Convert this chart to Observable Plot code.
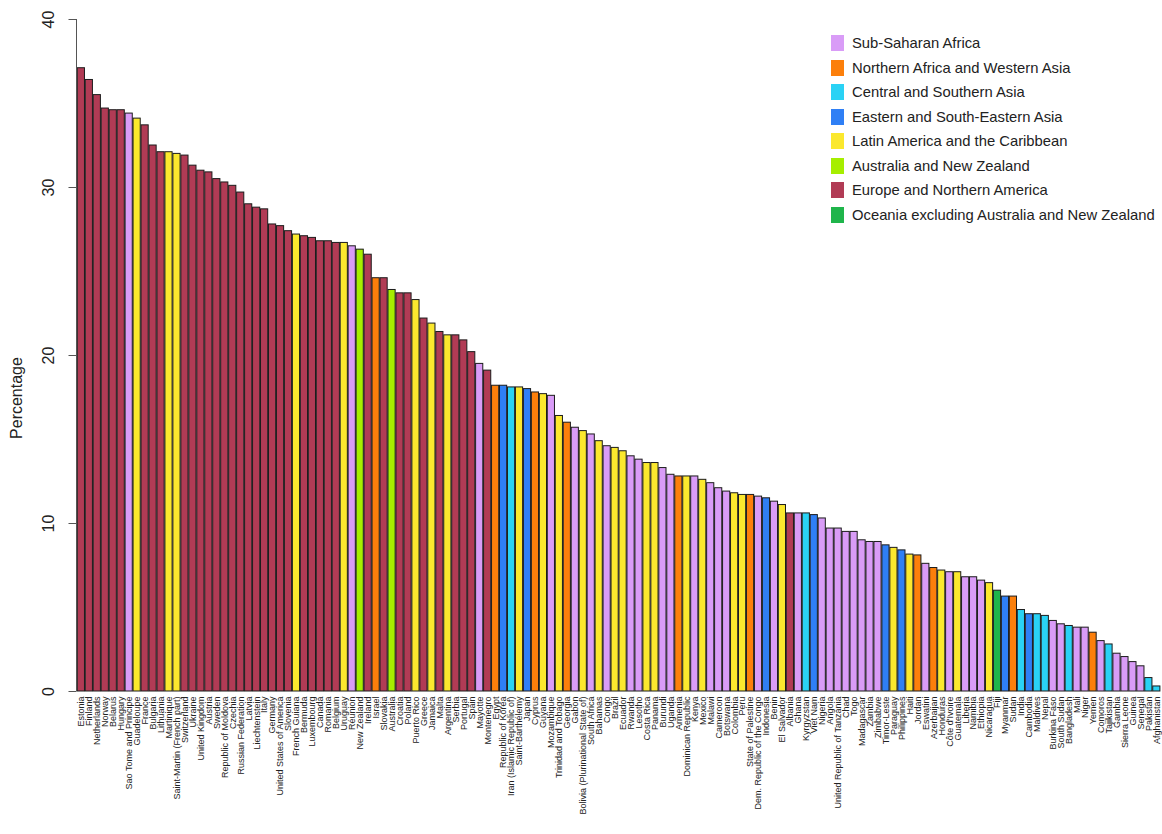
<!DOCTYPE html>
<html>
<head>
<meta charset="utf-8">
<script src="https://cdn.jsdelivr.net/npm/d3@7"></script>
<script src="https://cdn.jsdelivr.net/npm/@observablehq/plot@0.6"></script>
<style>
  html, body { margin: 0; padding: 0; background: #fff; }
  #wrap { position: relative; width: 1162px; height: 834px; font-family: "Liberation Sans", Arial, sans-serif; }
  #legend { position: absolute; left: 831px; top: 31px; font-size: 14.8px; color: #222; }
  #legend .row { display: flex; align-items: center; height: 24.5px; }
  #legend .sw { width: 13px; height: 16px; margin-right: 8px; }
</style>
</head>
<body>
<div id="wrap"><div id="legend"></div></div>
<script>
const regions = [
  "Sub-Saharan Africa",
  "Northern Africa and Western Asia",
  "Central and Southern Asia",
  "Eastern and South-Eastern Asia",
  "Latin America and the Caribbean",
  "Australia and New Zealand",
  "Europe and Northern America",
  "Oceania excluding Australia and New Zealand"
];
const regionColors = ["#d99cf7", "#fc7f0b", "#2ad2f5", "#2f7ff5", "#fbe82e", "#a6ee00", "#b13b55", "#1fb54b"];

const countries = [
  "Estonia","Finland","Netherlands","Norway","Belarus","Hungary","Sao Tome and Principe","Guadeloupe","France","Bulgaria",
  "Lithuania","Martinique","Saint-Martin (French part)","Switzerland","Ukraine","United Kingdom","Austria","Sweden","Republic of Moldova","Czechia",
  "Russian Federation","Latvia","Liechtenstein","Italy","Germany","United States of America","Slovenia","French Guiana","Bermuda","Luxembourg",
  "Canada","Romania","Belgium","Uruguay","Réunion","New Zealand","Ireland","Israel","Slovakia","Australia",
  "Croatia","Poland","Puerto Rico","Greece","Jamaica","Malta","Argentina","Serbia","Portugal","Spain",
  "Mayotte","Montenegro","Egypt","Republic of Korea","Iran (Islamic Republic of)","Saint-Barthélemy","Japan","Cyprus","Guyana","Mozambique",
  "Trinidad and Tobago","Georgia","Gabon","Bolivia (Plurinational State of)","South Africa","Bahamas","Congo","Brazil","Ecuador","Rwanda",
  "Lesotho","Costa Rica","Panama","Burundi","Uganda","Armenia","Dominican Republic","Kenya","Mexico","Malawi",
  "Cameroon","Botswana","Colombia","Peru","State of Palestine","Dem. Republic of the Congo","Indonesia","Benin","El Salvador","Albania",
  "Ghana","Kyrgyzstan","Viet Nam","Nigeria","Angola","United Republic of Tanzania","Chad","Togo","Madagascar","Zambia",
  "Zimbabwe","Timor-Leste","Paraguay","Philippines","Haiti","Jordan","Eswatini","Azerbaijan","Honduras","Côte d'Ivoire",
  "Guatemala","Liberia","Namibia","Ethiopia","Nicaragua","Fiji","Myanmar","Sudan","India","Cambodia",
  "Maldives","Nepal","Burkina Faso","South Sudan","Bangladesh","Mali","Niger","Yemen","Comoros","Tajikistan",
  "Gambia","Sierra Leone","Guinea","Senegal","Pakistan","Afghanistan"
];

const percentages = [
  37.1,36.4,35.5,34.7,34.6,34.6,34.4,34.1,33.7,32.5,
  32.1,32.1,32.0,31.9,31.3,31.0,30.9,30.5,30.3,30.1,
  29.7,29.0,28.8,28.7,27.8,27.7,27.4,27.2,27.1,27.0,
  26.8,26.8,26.7,26.7,26.5,26.3,26.0,24.6,24.6,23.9,
  23.7,23.7,23.3,22.2,21.9,21.4,21.2,21.2,20.9,20.2,
  19.5,19.1,18.2,18.2,18.1,18.1,18.0,17.8,17.7,17.6,
  16.4,16.0,15.7,15.5,15.3,14.9,14.6,14.5,14.3,14.0,
  13.8,13.6,13.6,13.3,12.9,12.8,12.8,12.8,12.6,12.4,
  12.1,11.9,11.8,11.7,11.7,11.6,11.5,11.3,11.1,10.6,
  10.6,10.6,10.5,10.3,9.7,9.7,9.5,9.5,9.0,8.9,
  8.9,8.7,8.55,8.4,8.15,8.1,7.6,7.35,7.2,7.1,
  7.1,6.8,6.8,6.6,6.45,6.0,5.65,5.65,4.85,4.6,
  4.6,4.5,4.2,4.0,3.9,3.8,3.8,3.5,3.0,2.8,
  2.25,2.05,1.75,1.5,0.8,0.3
];

// region index per country (into regions)
const regionIndex = [
  6,6,6,6,6,6,0,4,6,6,
  6,4,4,6,6,6,6,6,6,6,
  6,6,6,6,6,6,6,4,6,6,
  6,6,6,4,0,5,6,1,6,5,
  6,6,4,6,4,6,4,6,6,6,
  0,6,1,3,2,4,3,1,4,0,
  4,1,0,4,0,4,0,4,4,0,
  0,4,4,0,0,1,4,0,4,0,
  0,0,4,4,1,0,3,0,4,6,
  0,2,3,0,0,0,0,0,0,0,
  0,3,4,3,4,1,0,1,4,0,
  4,0,0,0,4,7,3,1,2,3,
  2,2,0,0,2,0,0,1,0,2,
  0,0,0,0,2,2
];

const yTicks = [0, 10, 20, 30, 40];

const data = countries.map((c, i) => ({country: c, value: percentages[i], region: regions[regionIndex[i]]}));

const marginLeft = 76.5, marginTop = 19, marginBottom = 143;

const chart = Plot.plot({
  width: 1162,
  height: 834,
  marginLeft,
  marginRight: 1.3,
  marginTop,
  marginBottom,
  style: {fontFamily: "'Liberation Sans', Arial, sans-serif", background: "#fff"},
  x: {domain: countries, padding: 0.1, label: null},
  y: {domain: [0, 40], label: null},
  color: {domain: regions, range: regionColors},
  marks: [
    Plot.barY(data, {x: "country", y: "value", fill: "region", stroke: "#1c1c1c", strokeWidth: 1}),
    Plot.axisX({tickSize: 0, tickPadding: 5, tickRotate: -90, fontSize: 9, fill: "#222", label: null}),
    Plot.axisY({ticks: yTicks, tickSize: 8, tickPadding: 15, tickRotate: -90, fontSize: 16, stroke: "#555", fill: "#222", label: null})
  ]
});

document.getElementById("wrap").prepend(chart);

// axis line and y label
const ys = chart.scale("y");
const svg = d3.select(chart);
svg.append("line")
  .attr("x1", marginLeft).attr("x2", marginLeft)
  .attr("y1", ys.apply(0)).attr("y2", ys.apply(40))
  .attr("stroke", "#555").attr("stroke-width", 1);
svg.append("text")
  .attr("transform", `translate(22,${(ys.apply(0) + ys.apply(40)) / 2 + 43}) rotate(-90)`)
  .attr("text-anchor", "middle")
  .attr("font-size", 16)
  .attr("fill", "#222")
  .attr("font-family", "'Liberation Sans', Arial, sans-serif")
  .text("Percentage");

// legend
const legend = d3.select("#legend");
regions.forEach((r, i) => {
  const row = legend.append("div").attr("class", "row");
  row.append("div").attr("class", "sw").style("background", regionColors[i]);
  row.append("span").text(r);
});
</script>
</body>
</html>
